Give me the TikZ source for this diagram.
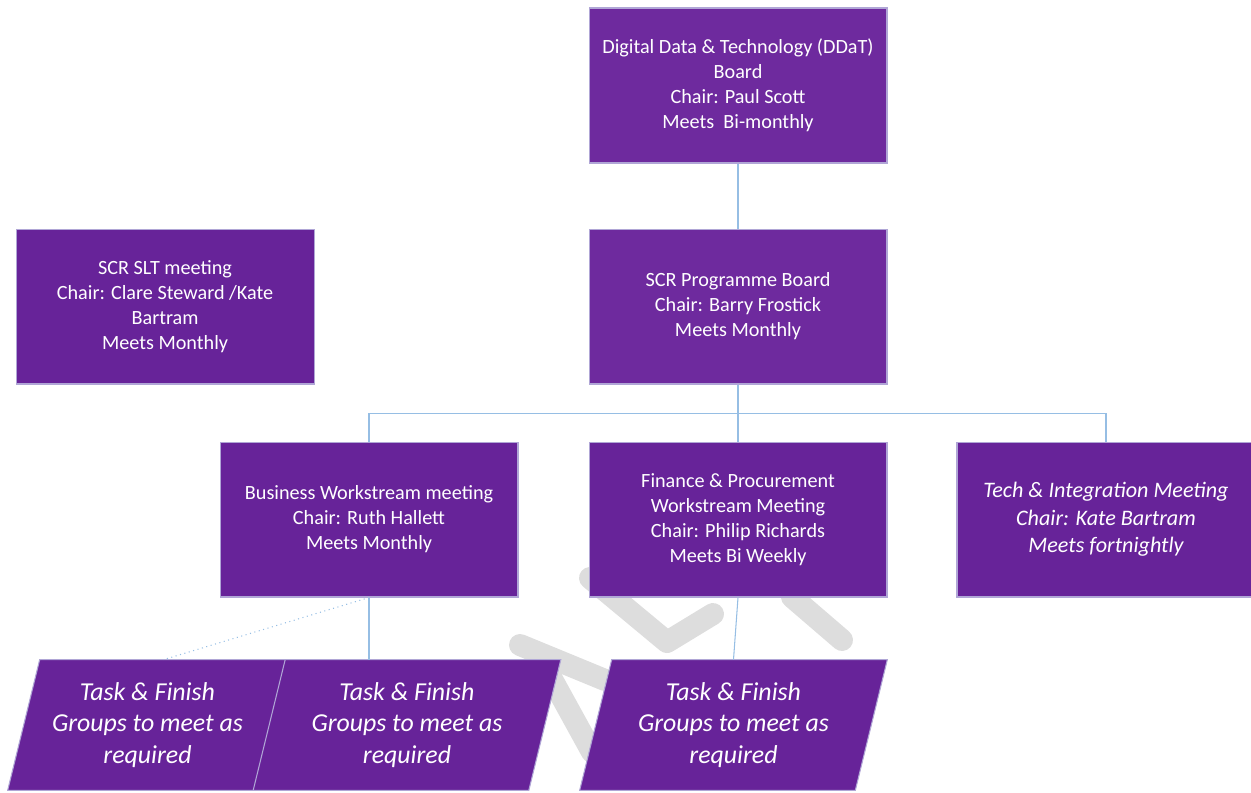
\documentclass[tikz,border=0pt]{standalone}
\usepackage{fontspec}
\setmainfont{Carlito}
\usetikzlibrary{calc,positioning,backgrounds}
\definecolor{boardpurple}{RGB}{110,42,158}
\definecolor{meetpurple}{RGB}{103,35,153}
\definecolor{edgelilac}{RGB}{176,166,214}
\definecolor{linkblue}{RGB}{150,190,228}
\definecolor{draftgrey}{RGB}{221,221,221}

\begin{document}
\begin{tikzpicture}[x=0.02cm, y=-0.02cm,
  every node/.style={text=white, align=center, inner sep=0pt},
  board/.style={rectangle, draw=edgelilac, line width=0.6pt, fill=meetpurple, minimum width=5.96cm, minimum height=3.1cm, font=\fontsize{11.5}{14.2}\selectfont},
  task/.style={rectangle, minimum height=2.6cm, font=\fontsize{14.7}{17.9}\selectfont\itshape},
  taskbox/.style={draw=edgelilac, line width=0.6pt, fill=meetpurple},
  link/.style={draw=linkblue, line width=0.6pt},
  draft/.style={draw=draftgrey, line width=0.44cm, line cap=round, line join=round}]
  \useasboundingbox (0,0) rectangle (1251,792);

  \node[board, fill=boardpurple] (ddat) at (738,85.5) {Digital Data \& Technology (DDaT)\\Board\\Chair: Paul Scott\\Meets\ \ Bi-monthly};
  \node[board, fill=boardpurple, below=1.3cm of ddat] (pb) {SCR Programme Board\\Chair: Barry Frostick\\Meets Monthly};
  \node[board, left=5.48cm of pb] (slt) {SCR SLT meeting\\Chair: Clare Steward /Kate\\Bartram\\Meets Monthly};
  \node[board, below=1.14cm of pb] (fin) {Finance \& Procurement\\Workstream Meeting\\Chair: Philip Richards\\Meets Bi Weekly};
  \node[board, left=1.4cm of fin] (bws) {Business Workstream meeting\\Chair: Ruth Hallett\\Meets Monthly};
  \node[board, right=1.38cm of fin, font=\fontsize{12.6}{15.6}\selectfont\itshape] (tech) {Tech \& Integration Meeting\\Chair: Kate Bartram\\Meets fortnightly};

  \node[task, minimum width=4.94cm] (tf1) at (147.5,725) {Task \& Finish\\Groups to meet as\\required};
  \node[task, minimum width=5.5cm] (tf2) at (407,725) {Task \& Finish\\Groups to meet as\\required};
  \node[task, minimum width=5.5cm] (tf3) at (733.5,725) {Task \& Finish\\Groups to meet as\\required};

  \begin{scope}[on background layer]
    % faint draft watermark behind the boxes
    \draw[draft] (520,645) -- (605,680);
    \draw[draft] (548,672) -- (592,752);
    \draw[draft] (590,578) -- (667,642) -- (713,614);
    \draw[draft] (792,597) -- (842,640);
    \foreach \t in {tf1,tf2,tf3}
      \draw[taskbox] ($(\t.north west)+(16,0)$) -- ($(\t.north east)+(16,0)$)
        -- ($(\t.south east)+(-16,0)$) -- ($(\t.south west)+(-16,0)$) -- cycle;
  \end{scope}

  \coordinate (split) at ($(pb.south)!0.5!(fin.north)$);
  \draw[link] (ddat) -- (pb);
  \draw[link] (pb.south) -- (fin.north);
  \draw[link] (split) -| (bws.north);
  \draw[link] (split) -| (tech.north);
  \draw[link] (bws.south) -- (bws.south |- tf2.north);
  \draw[link, dotted] (bws.south) -- ($(tf1.north)+(16,0)$);
  \draw[link] (fin.south) -- (tf3.north);
\end{tikzpicture}
\end{document}
